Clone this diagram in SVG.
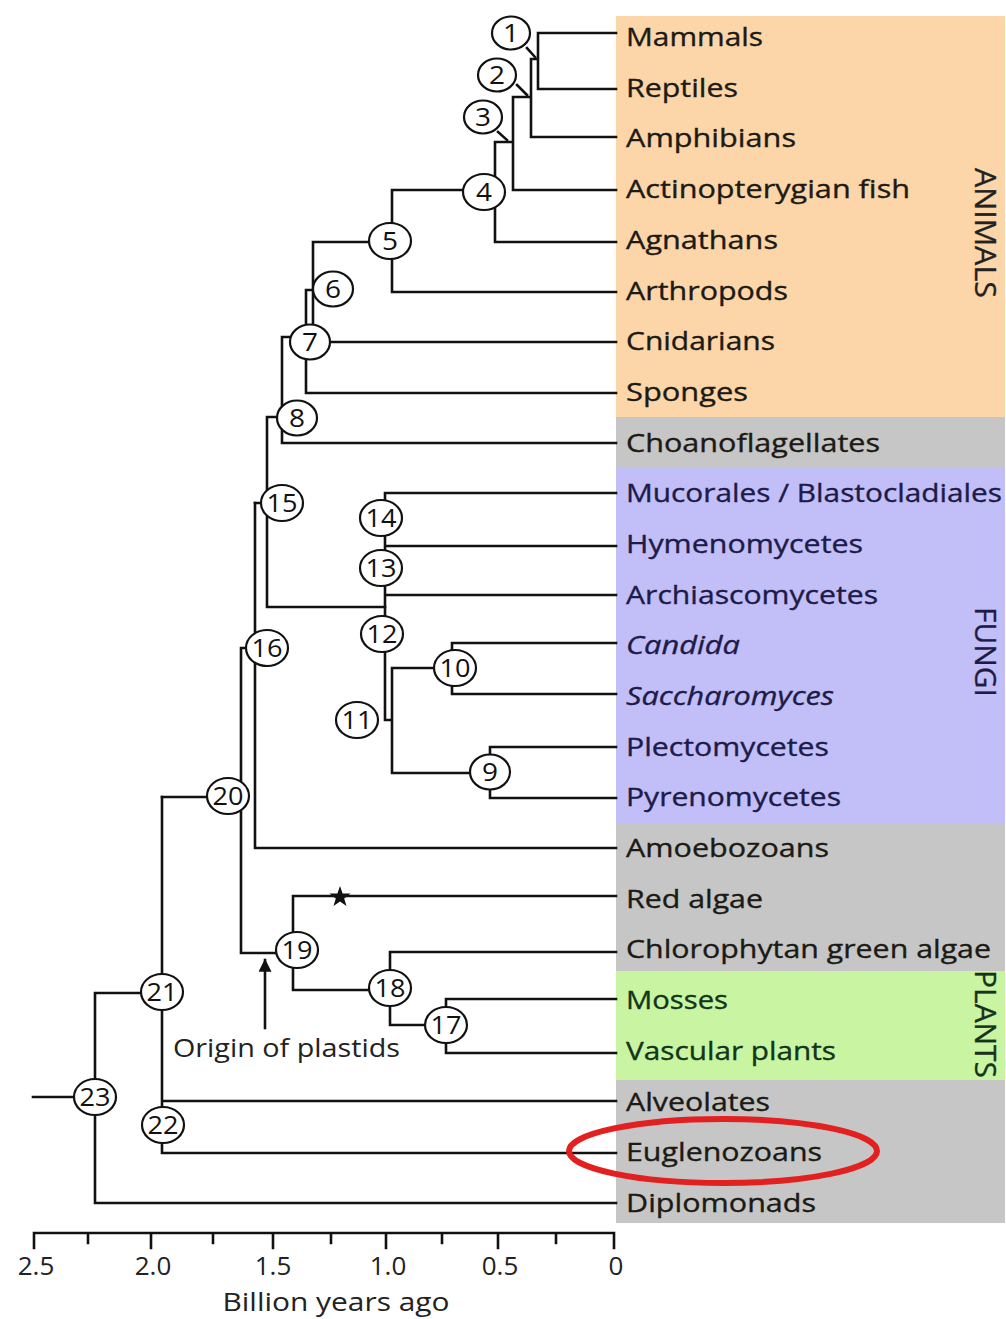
<svg xmlns="http://www.w3.org/2000/svg" width="1006" height="1319" viewBox="0 0 1006 1319">
<style>
.ln{fill:none;stroke:#111;stroke-width:2.6;stroke-linecap:square}
.nd ellipse{fill:#fff;stroke:#111;stroke-width:2.2}
.nd text{font-family:"Open Sans","Liberation Sans",Arial,sans-serif;font-size:25px;fill:#111;text-anchor:middle}
.lb{font-family:"Open Sans","Liberation Sans",Arial,sans-serif;font-size:25px;fill:#1c1a14;stroke:#1c1a14;stroke-width:0.35}
.fu{fill:#1d1b48;stroke:#1d1b48}
.pl{fill:#12361a;stroke:#12361a}
.grp{font-family:"Open Sans","Liberation Sans",Arial,sans-serif;font-size:29px;fill:#222;stroke:#222;stroke-width:0.3}
.ax{font-family:"Open Sans","Liberation Sans",Arial,sans-serif;font-size:26px;fill:#222}
</style>
<defs>
<marker id="ah" viewBox="0 0 10 10" refX="9" refY="5" markerWidth="5" markerHeight="5" orient="auto"><path d="M0,0 L10,5 L0,10 z" fill="#111"/></marker>
</defs>
<rect width="1006" height="1319" fill="#fff"/>
<g id="panels">
<rect x="616" y="16" width="389" height="401" fill="#fcd6a8"/>
<rect x="616" y="417" width="389" height="50" fill="#c6c6c6"/>
<rect x="616" y="467" width="389" height="356" fill="#c2bef8"/>
<rect x="616" y="823" width="389" height="148" fill="#c6c6c6"/>
<rect x="616" y="971" width="389" height="109" fill="#c9f5a3"/>
<rect x="616" y="1080" width="389" height="143" fill="#c6c6c6"/>
</g>
<g id="connectors" class="ln">
<path d="M538 33V89M538 33H616M538 89H616M531 59H538M531 59V137H616M513 97H531M513 97V190H616M495 142H513M495 142V242H616"/>
<path d="M527 48L535 57M517 85L527 95M498 132L507 140"/>
<path d="M392 190H495M392 190V292H616M313 242H392M313 242V342H616M306 290H313M306 290V393H616M282 337H306M282 337V443H616M267 417H282M267 417V607H385M255 503H267"/>
<path d="M385 493V720M385 493H616M385 546H616M385 595H616M385 720H392M392 668V773M392 668H452M452 643V694M452 643H616M452 694H616M392 773H490M490 747V798M490 747H616M490 798H616"/>
<path d="M255 503V848H616M241 648H255M241 648V953H293M162 797H241"/>
<path d="M293 896V990M293 896H616M293 990H390M390 952V1025M390 952H616M390 1025H446M446 999V1053M446 999H616M446 1053H616"/>
<path d="M162 797V1153M162 1101H616M162 1153H616M95 993H162M95 993V1203H616M33 1097H95"/>
<path d="M265 1028V960" marker-end="url(#ah)"/>
</g>
<g id="star"><path d="M340 886L342.6 893.5L350.5 893.6L344.2 898.4L346.5 906L340 901.5L333.5 906L335.8 898.4L329.5 893.6L337.4 893.5Z" fill="#111"/></g>
<g id="node-1" class="nd"><ellipse cx="511" cy="33" rx="19" ry="16.5"/><text x="511" y="42" textLength="16" lengthAdjust="spacingAndGlyphs">1</text></g>
<g id="node-2" class="nd"><ellipse cx="497" cy="75" rx="19" ry="16.5"/><text x="497" y="84" textLength="16" lengthAdjust="spacingAndGlyphs">2</text></g>
<g id="node-3" class="nd"><ellipse cx="483" cy="117" rx="19" ry="16.5"/><text x="483" y="126" textLength="16" lengthAdjust="spacingAndGlyphs">3</text></g>
<g id="node-4" class="nd"><ellipse cx="484" cy="192" rx="21" ry="18"/><text x="484" y="201" textLength="16" lengthAdjust="spacingAndGlyphs">4</text></g>
<g id="node-5" class="nd"><ellipse cx="390" cy="241" rx="21" ry="18"/><text x="390" y="250" textLength="16" lengthAdjust="spacingAndGlyphs">5</text></g>
<g id="node-6" class="nd"><ellipse cx="333" cy="289" rx="20" ry="17.5"/><text x="333" y="298" textLength="16" lengthAdjust="spacingAndGlyphs">6</text></g>
<g id="node-7" class="nd"><ellipse cx="310" cy="342" rx="20" ry="17.5"/><text x="310" y="351" textLength="16" lengthAdjust="spacingAndGlyphs">7</text></g>
<g id="node-8" class="nd"><ellipse cx="297" cy="418" rx="20" ry="17.5"/><text x="297" y="427" textLength="16" lengthAdjust="spacingAndGlyphs">8</text></g>
<g id="node-9" class="nd"><ellipse cx="490" cy="772" rx="20" ry="17.5"/><text x="490" y="781" textLength="16" lengthAdjust="spacingAndGlyphs">9</text></g>
<g id="node-10" class="nd"><ellipse cx="455" cy="668" rx="21" ry="18"/><text x="455" y="677" textLength="31" lengthAdjust="spacingAndGlyphs">10</text></g>
<g id="node-11" class="nd"><ellipse cx="357" cy="720" rx="21" ry="18"/><text x="357" y="729" textLength="31" lengthAdjust="spacingAndGlyphs">11</text></g>
<g id="node-12" class="nd"><ellipse cx="382" cy="634" rx="21" ry="18"/><text x="382" y="643" textLength="31" lengthAdjust="spacingAndGlyphs">12</text></g>
<g id="node-13" class="nd"><ellipse cx="381" cy="568" rx="21" ry="18"/><text x="381" y="577" textLength="31" lengthAdjust="spacingAndGlyphs">13</text></g>
<g id="node-14" class="nd"><ellipse cx="381" cy="518" rx="21" ry="18"/><text x="381" y="527" textLength="31" lengthAdjust="spacingAndGlyphs">14</text></g>
<g id="node-15" class="nd"><ellipse cx="282" cy="503" rx="21" ry="18"/><text x="282" y="512" textLength="31" lengthAdjust="spacingAndGlyphs">15</text></g>
<g id="node-16" class="nd"><ellipse cx="267" cy="648" rx="21" ry="18"/><text x="267" y="657" textLength="31" lengthAdjust="spacingAndGlyphs">16</text></g>
<g id="node-17" class="nd"><ellipse cx="446" cy="1025" rx="21" ry="18"/><text x="446" y="1034" textLength="31" lengthAdjust="spacingAndGlyphs">17</text></g>
<g id="node-18" class="nd"><ellipse cx="390" cy="988" rx="21" ry="18"/><text x="390" y="997" textLength="31" lengthAdjust="spacingAndGlyphs">18</text></g>
<g id="node-19" class="nd"><ellipse cx="297" cy="950" rx="21" ry="18"/><text x="297" y="959" textLength="31" lengthAdjust="spacingAndGlyphs">19</text></g>
<g id="node-20" class="nd"><ellipse cx="228" cy="796" rx="21" ry="18"/><text x="228" y="805" textLength="31" lengthAdjust="spacingAndGlyphs">20</text></g>
<g id="node-21" class="nd"><ellipse cx="162" cy="992" rx="21" ry="18"/><text x="162" y="1001" textLength="31" lengthAdjust="spacingAndGlyphs">21</text></g>
<g id="node-22" class="nd"><ellipse cx="163" cy="1125" rx="21" ry="18"/><text x="163" y="1134" textLength="31" lengthAdjust="spacingAndGlyphs">22</text></g>
<g id="node-23" class="nd"><ellipse cx="95" cy="1097" rx="21" ry="18"/><text x="95" y="1106" textLength="31" lengthAdjust="spacingAndGlyphs">23</text></g>
<g id="labels" class="lb">
<g id="leaf-mammals"><text x="626" y="46" textLength="137" lengthAdjust="spacingAndGlyphs">Mammals</text></g>
<g id="leaf-reptiles"><text x="626" y="97" textLength="112" lengthAdjust="spacingAndGlyphs">Reptiles</text></g>
<g id="leaf-amphibians"><text x="626" y="147" textLength="170" lengthAdjust="spacingAndGlyphs">Amphibians</text></g>
<g id="leaf-actinopterygian"><text x="626" y="198" textLength="284" lengthAdjust="spacingAndGlyphs">Actinopterygian fish</text></g>
<g id="leaf-agnathans"><text x="626" y="249" textLength="152" lengthAdjust="spacingAndGlyphs">Agnathans</text></g>
<g id="leaf-arthropods"><text x="626" y="300" textLength="162" lengthAdjust="spacingAndGlyphs">Arthropods</text></g>
<g id="leaf-cnidarians"><text x="626" y="350" textLength="149" lengthAdjust="spacingAndGlyphs">Cnidarians</text></g>
<g id="leaf-sponges"><text x="626" y="401" textLength="122" lengthAdjust="spacingAndGlyphs">Sponges</text></g>
<g id="leaf-choanoflagellates"><text x="626" y="452" textLength="254" lengthAdjust="spacingAndGlyphs">Choanoflagellates</text></g>
<g id="leaf-mucorales"><text class="fu" x="626" y="502" textLength="376" lengthAdjust="spacingAndGlyphs">Mucorales / Blastocladiales</text></g>
<g id="leaf-hymenomycetes"><text class="fu" x="626" y="553" textLength="237" lengthAdjust="spacingAndGlyphs">Hymenomycetes</text></g>
<g id="leaf-archiascomycetes"><text class="fu" x="626" y="604" textLength="252" lengthAdjust="spacingAndGlyphs">Archiascomycetes</text></g>
<g id="leaf-candida"><text class="fu" x="626" y="654" font-style="italic" textLength="114" lengthAdjust="spacingAndGlyphs">Candida</text></g>
<g id="leaf-saccharomyces"><text class="fu" x="626" y="705" font-style="italic" textLength="208" lengthAdjust="spacingAndGlyphs">Saccharomyces</text></g>
<g id="leaf-plectomycetes"><text class="fu" x="626" y="756" textLength="203" lengthAdjust="spacingAndGlyphs">Plectomycetes</text></g>
<g id="leaf-pyrenomycetes"><text class="fu" x="626" y="806" textLength="215" lengthAdjust="spacingAndGlyphs">Pyrenomycetes</text></g>
<g id="leaf-amoebozoans"><text x="626" y="857" textLength="203" lengthAdjust="spacingAndGlyphs">Amoebozoans</text></g>
<g id="leaf-red-algae"><text x="626" y="908" textLength="137" lengthAdjust="spacingAndGlyphs">Red algae</text></g>
<g id="leaf-chlorophytan"><text x="626" y="958" textLength="365" lengthAdjust="spacingAndGlyphs">Chlorophytan green algae</text></g>
<g id="leaf-mosses"><text class="pl" x="626" y="1009" textLength="102" lengthAdjust="spacingAndGlyphs">Mosses</text></g>
<g id="leaf-vascular"><text class="pl" x="626" y="1060" textLength="210" lengthAdjust="spacingAndGlyphs">Vascular plants</text></g>
<g id="leaf-alveolates"><text x="626" y="1111" textLength="144" lengthAdjust="spacingAndGlyphs">Alveolates</text></g>
<g id="leaf-euglenozoans"><text x="626" y="1161" textLength="196" lengthAdjust="spacingAndGlyphs">Euglenozoans</text></g>
<g id="leaf-diplomonads"><text x="626" y="1212" textLength="190" lengthAdjust="spacingAndGlyphs">Diplomonads</text></g>
</g>
<g id="group-labels" class="grp">
<text transform="translate(975,168) rotate(90)" textLength="130" lengthAdjust="spacingAndGlyphs">ANIMALS</text>
<text transform="translate(975,607) rotate(90)" textLength="90" lengthAdjust="spacingAndGlyphs" fill="#1d1b48">FUNGI</text>
<text transform="translate(975,970) rotate(90)" textLength="108" lengthAdjust="spacingAndGlyphs" fill="#12361a">PLANTS</text>
</g>
<g id="annotation"><text class="ax" x="173" y="1057" font-size="27" textLength="227" lengthAdjust="spacingAndGlyphs">Origin of plastids</text></g>
<g id="axis">
<path class="ln" d="M34 1233H614M34 1233V1248M151 1233V1248M273 1233V1248M386 1233V1248M498 1233V1248M614 1233V1248M88 1233V1243M213 1233V1243M331 1233V1243M442 1233V1243M556 1233V1243"/>
<g class="ax" text-anchor="middle">
<text x="36" y="1275">2.5</text>
<text x="153" y="1275">2.0</text>
<text x="273" y="1275">1.5</text>
<text x="388" y="1275">1.0</text>
<text x="500" y="1275">0.5</text>
<text x="616" y="1275">0</text>
<text x="336" y="1311" textLength="227" lengthAdjust="spacingAndGlyphs">Billion years ago</text>
</g>
</g>
<g id="highlight"><ellipse cx="723" cy="1151" rx="154" ry="32" fill="none" stroke="#e32020" stroke-width="6"/></g>
</svg>
